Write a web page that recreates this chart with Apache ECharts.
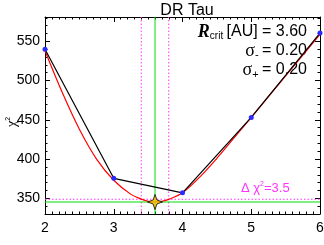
<!DOCTYPE html>
<html><head><meta charset="utf-8">
<script src="https://cdn.jsdelivr.net/npm/echarts@6/dist/echarts.min.js"></script>
<style>html,body{margin:0;padding:0;background:#fff}#c{width:324px;height:245px}</style>
</head><body><div id="c"></div>
<script>
// data
const radii = [2, 3, 4, 5, 6];
const chi2 = [540, 375.5, 357, 453, 560.5];
const fitX = [2.0, 2.25, 2.5, 2.75, 3.0, 3.25, 3.4, 3.5, 3.6, 3.7, 3.8, 4.0, 4.25, 4.5, 4.75, 5.0, 5.5, 6.0];
const fitY = [538, 485, 438, 400, 373, 355, 349, 346.2, 345.3, 346.2, 348.6, 357, 377, 401, 427, 453, 506, 559];
const rBest = 3.6;
const sigMinus = 0.20;
const sigPlus = 0.20;
const chiMin = 345.3;
const deltaChi = 3.5;
const xTicks = [2, 3, 4, 5, 6];
const yTicks = [350, 400, 450, 500, 550];

const font = 'Liberation Sans';
const serif = 'Liberation Serif';
const chart = echarts.init(document.getElementById('c'), null, {renderer: 'canvas'});

const xMin = xTicks[0], xMax = xTicks[xTicks.length - 1];
const yMin = 330, yMax = 581;

function xAxisDef(pos, showLabel) {
  return {
    type: 'value', min: xMin, max: xMax, interval: 1, position: pos,
    axisLine: {show: true, lineStyle: {color: '#000', width: 1}},
    axisTick: {show: true, inside: true, length: 5, lineStyle: {color: '#000'}},
    minorTick: {show: true, splitNumber: 10, length: 2.5, lineStyle: {color: '#000'}},
    splitLine: {show: false},
    axisLabel: {show: showLabel, color: '#000', fontFamily: font, fontSize: 14, margin: 7}
  };
}
function yAxisDef(pos, showLabel) {
  return {
    type: 'value', min: yMin, max: yMax, position: pos,
    axisLine: {show: true, lineStyle: {color: '#000', width: 1}},
    axisTick: {show: true, inside: true, length: 5, customValues: yTicks, lineStyle: {color: '#000'}},
    minorTick: {show: true, splitNumber: 5, length: 2.5, lineStyle: {color: '#000'}},
    splitLine: {show: false},
    axisLabel: {show: showLabel, color: '#000', fontFamily: font, fontSize: 14, margin: 5, customValues: yTicks}
  };
}
function refLine(points, color, type, width) {
  return {
    type: 'line', data: points, silent: true, z: 2, showSymbol: false, symbol: 'none',
    lineStyle: {color: color, type: type, width: width}
  };
}
const vLine = (x) => [[x, yMin], [x, yMax]];
const hLine = (y) => [[xMin, y], [xMax, y]];

const option = {
  animation: false,
  backgroundColor: '#fff',
  title: {text: 'DR Tau', left: 182, top: -2, textAlign: 'center',
    textStyle: {fontFamily: font, fontSize: 16, fontWeight: 'normal', color: '#000'}},
  grid: {left: 45, right: 4, top: 17, bottom: 31, containLabel: false, outerBoundsMode: 'none'},
  xAxis: [xAxisDef('bottom', true), xAxisDef('top', false)],
  yAxis: [yAxisDef('left', true), yAxisDef('right', false)],
  series: [
    refLine(vLine(rBest - sigMinus), '#ff33ff', [1.5, 2], 1),
    refLine(vLine(rBest + sigPlus), '#ff33ff', [1.5, 2], 1),
    refLine(hLine(chiMin + deltaChi), '#ff33ff', [1.5, 2], 1),
    refLine(vLine(rBest), '#00e000', 'solid', 1),
    refLine(hLine(chiMin), '#00e000', 'solid', 1),
    {
      type: 'line', data: fitX.map((x, i) => [x, fitY[i]]), smooth: 0.35, showSymbol: false,
      lineStyle: {color: '#ff0000', width: 1.2}, z: 3
    },
    {
      type: 'line', data: radii.map((x, i) => [x, chi2[i]]), showSymbol: true, symbol: 'circle', symbolSize: 5,
      itemStyle: {color: '#2a2aff'}, lineStyle: {color: '#000', width: 1.2}, z: 4
    },
    {
      type: 'scatter', data: [[rBest, chiMin]], z: 6,
      symbol: 'path://M0,-10 L2.6,-2.6 L10,0 L2.6,2.6 L0,10 L-2.6,2.6 L-10,0 L-2.6,-2.6 Z',
      symbolSize: 15, itemStyle: {color: '#ffc000', borderColor: '#000', borderWidth: 1}
    }
  ],
  graphic: [
    {type: 'text', x: 5, y: 127, rotation: Math.PI / 2, style: {
      text: '{a|χ}{b|2}',
      rich: {
        a: {fontFamily: serif, fontSize: 14, fill: '#000'},
        b: {fontFamily: font, fontSize: 7, fill: '#000', padding: [0, 0, 8, 0]}
      }}},
    {type: 'text', right: 17, top: 23, style: {
      text: '{r|R}{s|crit} {n|[AU] = ' + rBest.toFixed(2) + '}',
      rich: {
        r: {fontFamily: serif, fontStyle: 'italic', fontWeight: 'bold', fontSize: 18, fill: '#000'},
        s: {fontFamily: font, fontSize: 10, fill: '#000', padding: [8, 0, 0, 0]},
        n: {fontFamily: font, fontSize: 16, fill: '#000'}
      }}},
    {type: 'text', right: 17, top: 42, style: {
      text: '{g|σ}{s|-} {n|= ' + sigMinus.toFixed(2) + '}',
      rich: {
        g: {fontFamily: serif, fontSize: 18, fill: '#000'},
        s: {fontFamily: font, fontSize: 11, fill: '#000', padding: [8, 0, 0, 0]},
        n: {fontFamily: font, fontSize: 16, fill: '#000'}
      }}},
    {type: 'text', right: 17, top: 61, style: {
      text: '{g|σ}{s|+} {n|= ' + sigPlus.toFixed(2) + '}',
      rich: {
        g: {fontFamily: serif, fontSize: 18, fill: '#000'},
        s: {fontFamily: font, fontSize: 11, fill: '#000', padding: [9, 0, 0, 0]},
        n: {fontFamily: font, fontSize: 16, fill: '#000'}
      }}},
    {type: 'text', left: 241, top: 181, style: {
      text: '{a|Δ χ}{b|2}{a|=' + deltaChi.toFixed(1) + '}',
      rich: {
        a: {fontFamily: font, fontSize: 13, fill: '#ff33ff'},
        b: {fontFamily: font, fontSize: 7, fill: '#ff33ff', padding: [0, 0, 8, 0]}
      }}}
  ]
};
chart.setOption(option);
</script>
</body></html>
